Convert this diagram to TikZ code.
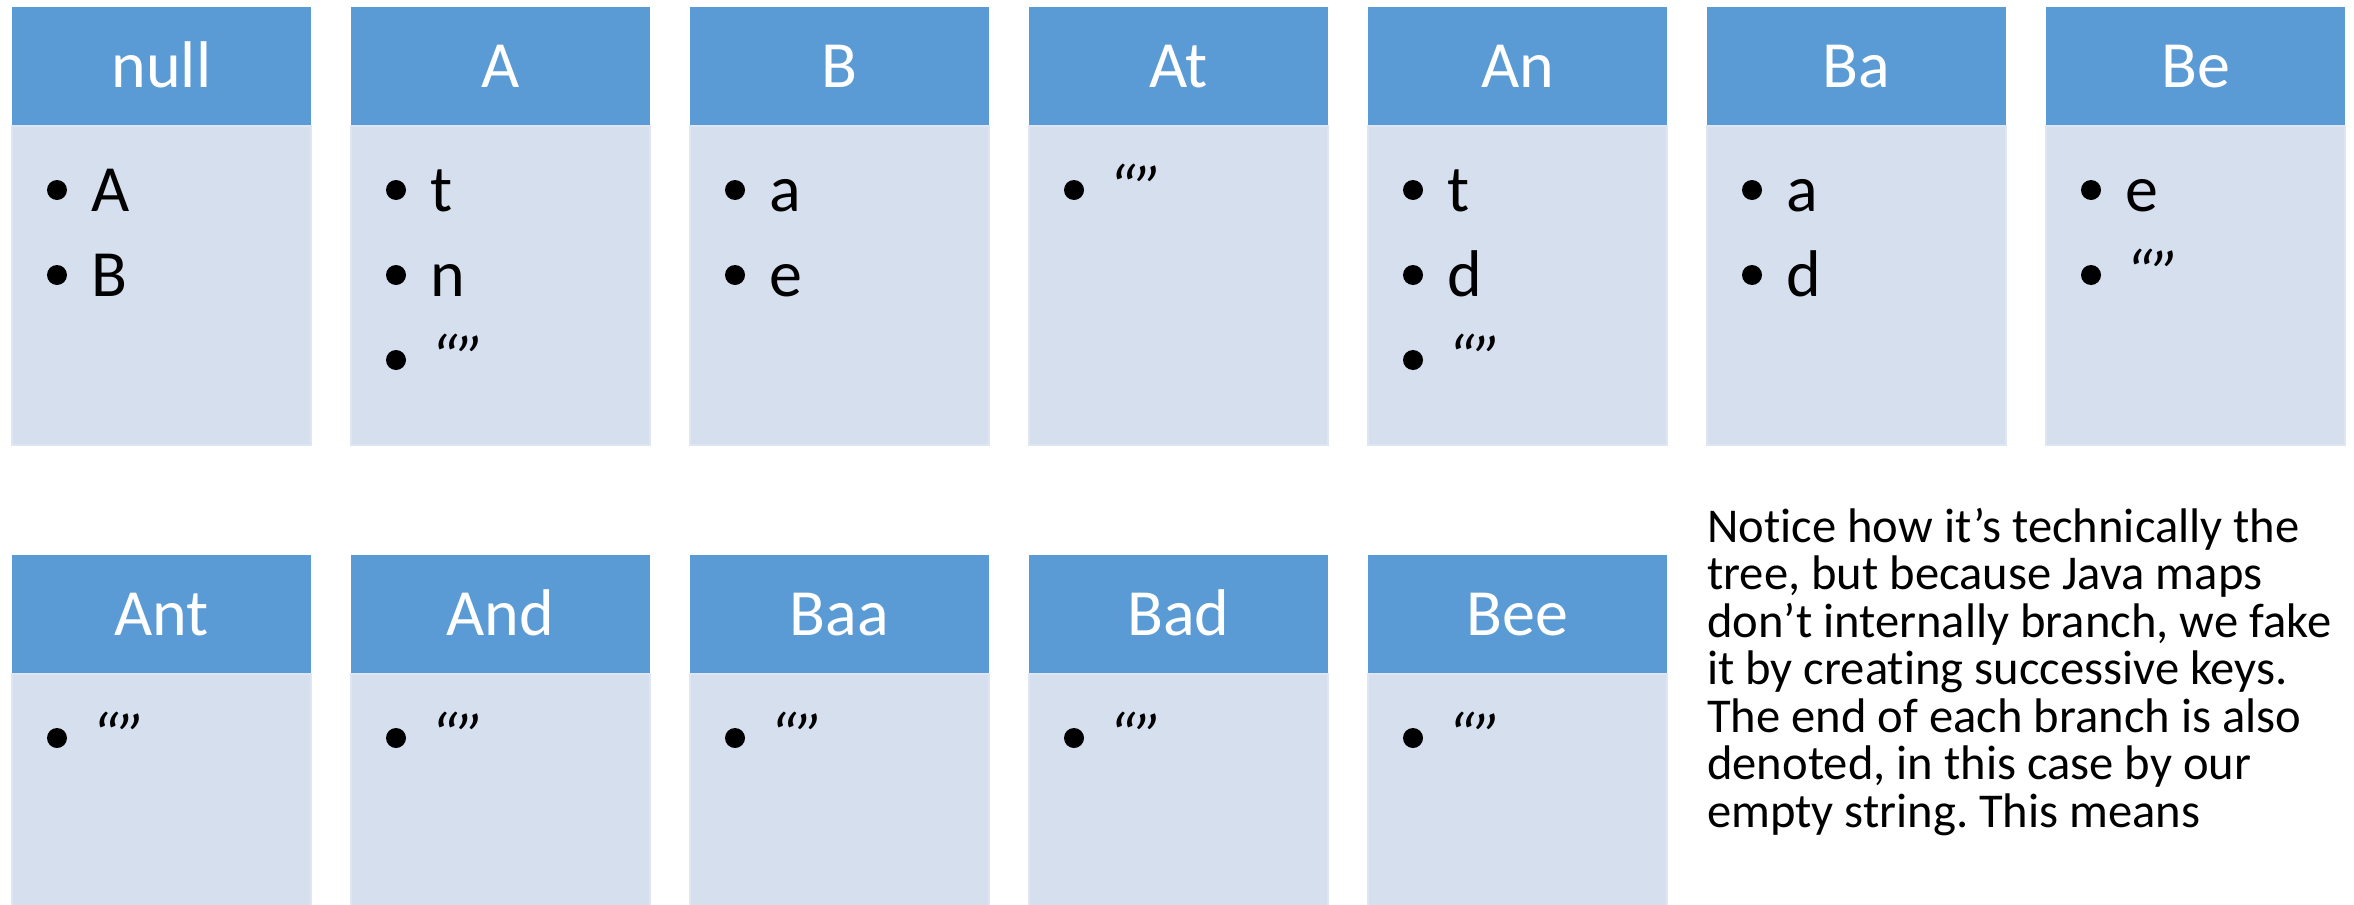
\documentclass[tikz,border=0pt]{standalone}
\usepackage{fontspec}
\setmainfont{Carlito}[Ligatures=NoCommon]
\usetikzlibrary{calc}
\frenchspacing
\definecolor{hdr}{HTML}{5B9BD5}
\definecolor{bdy}{HTML}{D5DFEE}
\definecolor{bdyline}{HTML}{DDE6F2}
\tikzset{
  hdrbox/.style={rectangle, fill=hdr, inner sep=0pt, outer sep=0pt, minimum width=299pt, minimum height=119pt},
  bodybox/.style={rectangle, fill=bdy, draw=bdyline, line width=1.5pt, inner sep=0pt, outer sep=0pt, minimum width=299pt},
  titletxt/.style={text=white, inner sep=0pt, font=\fontsize{66}{79}\selectfont},
  itemtxt/.style={text=black, inner sep=0pt, font=\fontsize{66}{79}\selectfont},
  paratxt/.style={text=black, inner sep=0pt, anchor=base west, font=\fontsize{48.6}{47.5}\selectfont},
}
\newcommand\mkcard[5]{%
  \node[hdrbox, anchor=north west] (h#1) at (#2,#3) {};
  \node[bodybox, anchor=north west, minimum height=#5] (b#1) at (h#1.south west) {};
  \node[titletxt, anchor=base] (t#1) at ($(h#1.north)+(0,80)$) {#4};
}
\newcommand\mkitem[4]{%
  \fill ($(b#2.north west)+(45,{85*#3-21})$) circle (10);
  \node[itemtxt, anchor=base west] (i#1) at ($(b#2.north west)+(79,{85*#3})$) {#4};
}
\newcommand\qq{{\itshape “”}}
\begin{document}
\begin{tikzpicture}[x=1pt,y=-1pt]
\useasboundingbox (0,0) rectangle (2354,905);
% top row
\mkcard{0}{12}{7}{null}{319pt}
\mkcard{1}{351}{7}{A}{319pt}
\mkcard{2}{690}{7}{B}{319pt}
\mkcard{3}{1029}{7}{At}{319pt}
\mkcard{4}{1368}{7}{An}{319pt}
\mkcard{5}{1707}{7}{Ba}{319pt}
\mkcard{6}{2046}{7}{Be}{319pt}
% bottom row
\mkcard{7}{12}{555}{Ant}{232pt}
\mkcard{8}{351}{555}{And}{232pt}
\mkcard{9}{690}{555}{Baa}{232pt}
\mkcard{10}{1029}{555}{Bad}{232pt}
\mkcard{11}{1368}{555}{Bee}{232pt}
% items
\mkitem{0a}{0}{1}{A}
\mkitem{0b}{0}{2}{B}
\mkitem{1a}{1}{1}{t}
\mkitem{1b}{1}{2}{n}
\mkitem{1c}{1}{3}{\qq}
\mkitem{2a}{2}{1}{a}
\mkitem{2b}{2}{2}{e}
\mkitem{3a}{3}{1}{\qq}
\mkitem{4a}{4}{1}{t}
\mkitem{4b}{4}{2}{d}
\mkitem{4c}{4}{3}{\qq}
\mkitem{5a}{5}{1}{a}
\mkitem{5b}{5}{2}{d}
\mkitem{6a}{6}{1}{e}
\mkitem{6b}{6}{2}{\qq}
\mkitem{7a}{7}{1}{\qq}
\mkitem{8a}{8}{1}{\qq}
\mkitem{9a}{9}{1}{\qq}
\mkitem{10a}{10}{1}{\qq}
\mkitem{11a}{11}{1}{\qq}
% paragraph
\node[paratxt] (p1) at (1707,542.3) {Notice how it’s technically the};
\node[paratxt] (p2) at (1707,589.8) {tree, but because Java maps};
\node[paratxt] (p3) at (1707,637.3) {don’t internally branch, we fake};
\node[paratxt] (p4) at (1707,684.8) {it by creating successive keys.};
\node[paratxt] (p5) at (1707,732.3) {The end of each branch is also};
\node[paratxt] (p6) at (1707,779.8) {denoted, in this case by our};
\node[paratxt] (p7) at (1707,827.3) {empty string. This means};
\end{tikzpicture}
\end{document}
